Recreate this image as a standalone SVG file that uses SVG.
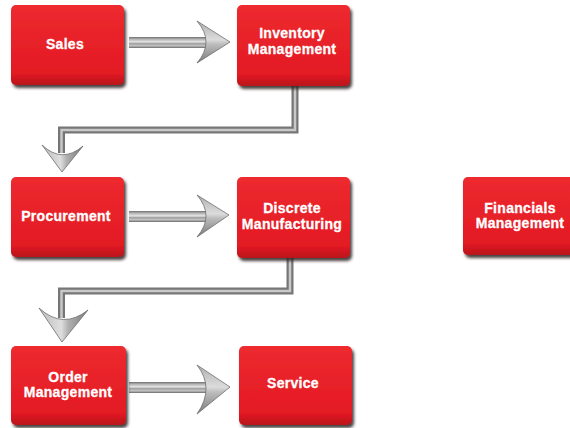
<svg xmlns="http://www.w3.org/2000/svg" width="570" height="428" viewBox="0 0 570 428">
<defs>
<linearGradient id="red" x1="0" y1="0" x2="0" y2="1">
<stop offset="0" stop-color="#ee2a2f"/>
<stop offset="0.85" stop-color="#e31a24"/>
<stop offset="1" stop-color="#b8141a"/>
</linearGradient>
<linearGradient id="shaftH" x1="0" y1="0" x2="0" y2="1">
<stop offset="0" stop-color="#707070"/>
<stop offset="0.2" stop-color="#b4b4b4"/>
<stop offset="0.45" stop-color="#e6e6e6"/>
<stop offset="0.6" stop-color="#a0a0a0"/>
<stop offset="0.8" stop-color="#c4c4c4"/>
<stop offset="1" stop-color="#6a6a6a"/>
</linearGradient>
<linearGradient id="headR" x1="0" y1="0" x2="0" y2="1">
<stop offset="0" stop-color="#b0b0b0"/>
<stop offset="0.45" stop-color="#dcdcdc"/>
<stop offset="0.55" stop-color="#bdbdbd"/>
<stop offset="1" stop-color="#7a7a7a"/>
</linearGradient>
<linearGradient id="headD" x1="0" y1="0" x2="1" y2="0">
<stop offset="0" stop-color="#bcbcbc"/>
<stop offset="0.45" stop-color="#dedede"/>
<stop offset="0.6" stop-color="#b0b0b0"/>
<stop offset="1" stop-color="#7a7a7a"/>
</linearGradient>
<filter id="sh" x="-10%" y="-10%" width="125%" height="130%">
<feDropShadow dx="2" dy="3" stdDeviation="1.5" flood-color="#2a1a1a" flood-opacity="0.85"/>
</filter>
</defs>
<style>
.box{fill:url(#red);filter:url(#sh)}
.lbl{font-family:"Liberation Sans",Arial,Helvetica,sans-serif;font-weight:bold;font-size:14px;letter-spacing:0.3px;fill:#ffffff;stroke:#ffffff;stroke-width:0.3;text-anchor:middle}
.shaft{fill:url(#shaftH)}
.head{fill:url(#headR);stroke:#6e6e6e;stroke-width:0.8}
.headd{fill:url(#headD);stroke:#6e6e6e;stroke-width:0.8}
.elbowO{fill:none;stroke:#767676;stroke-width:7;stroke-linejoin:miter}
.elbowI{fill:none;stroke:#c9c9c9;stroke-width:2.5;stroke-linejoin:miter}
</style>
<g id="connectors">
<rect class="shaft" x="129" y="37" width="78" height="11"/>
<path class="head" d="M197,21 L230,42 L197,63 Q215,42 197,21 Z"/>
<rect class="shaft" x="129" y="211" width="78" height="11"/>
<path class="head" d="M197,195 L229,215 L197,237 Q215,216 197,195 Z"/>
<rect class="shaft" x="129" y="382" width="78" height="11"/>
<path class="head" d="M197,365 L230,387 L197,414 Q215,388 197,365 Z"/>
<path class="elbowO" d="M295,86 V130 H61.5 V153"/>
<path class="elbowI" d="M295,86 V130 H61.5 V153"/>
<path class="headd" d="M42,145 Q62,164 83,146 L62,172 Z"/>
<path class="elbowO" d="M290,258 V291 H61.5 V318"/>
<path class="elbowI" d="M290,258 V291 H61.5 V318"/>
<path class="headd" d="M39,308 Q63,330 88,310 L62,342 Z"/>
</g>
<g id="sales"><rect class="box" x="11" y="5" width="113" height="80" rx="5"/><text class="lbl" x="65" y="49">Sales</text></g>
<g id="inventory"><rect class="box" x="237" y="5" width="113" height="81" rx="5"/><text class="lbl" x="292" y="38">Inventory</text><text class="lbl" x="292" y="54">Management</text></g>
<g id="procurement"><rect class="box" x="11" y="177" width="113" height="80" rx="5"/><text class="lbl" x="66" y="221">Procurement</text></g>
<g id="discrete"><rect class="box" x="237" y="177" width="113" height="81" rx="5"/><text class="lbl" x="292" y="213">Discrete</text><text class="lbl" x="292" y="229">Manufacturing</text></g>
<g id="financials"><rect class="box" x="463" y="177" width="115" height="78" rx="5"/><text class="lbl" x="520" y="213">Financials</text><text class="lbl" x="520" y="228">Management</text></g>
<g id="order"><rect class="box" x="11" y="346" width="115" height="79" rx="5"/><text class="lbl" x="68" y="382">Order</text><text class="lbl" x="68" y="397">Management</text></g>
<g id="service"><rect class="box" x="239" y="346" width="113" height="79" rx="5"/><text class="lbl" x="293" y="388">Service</text></g>
</svg>
